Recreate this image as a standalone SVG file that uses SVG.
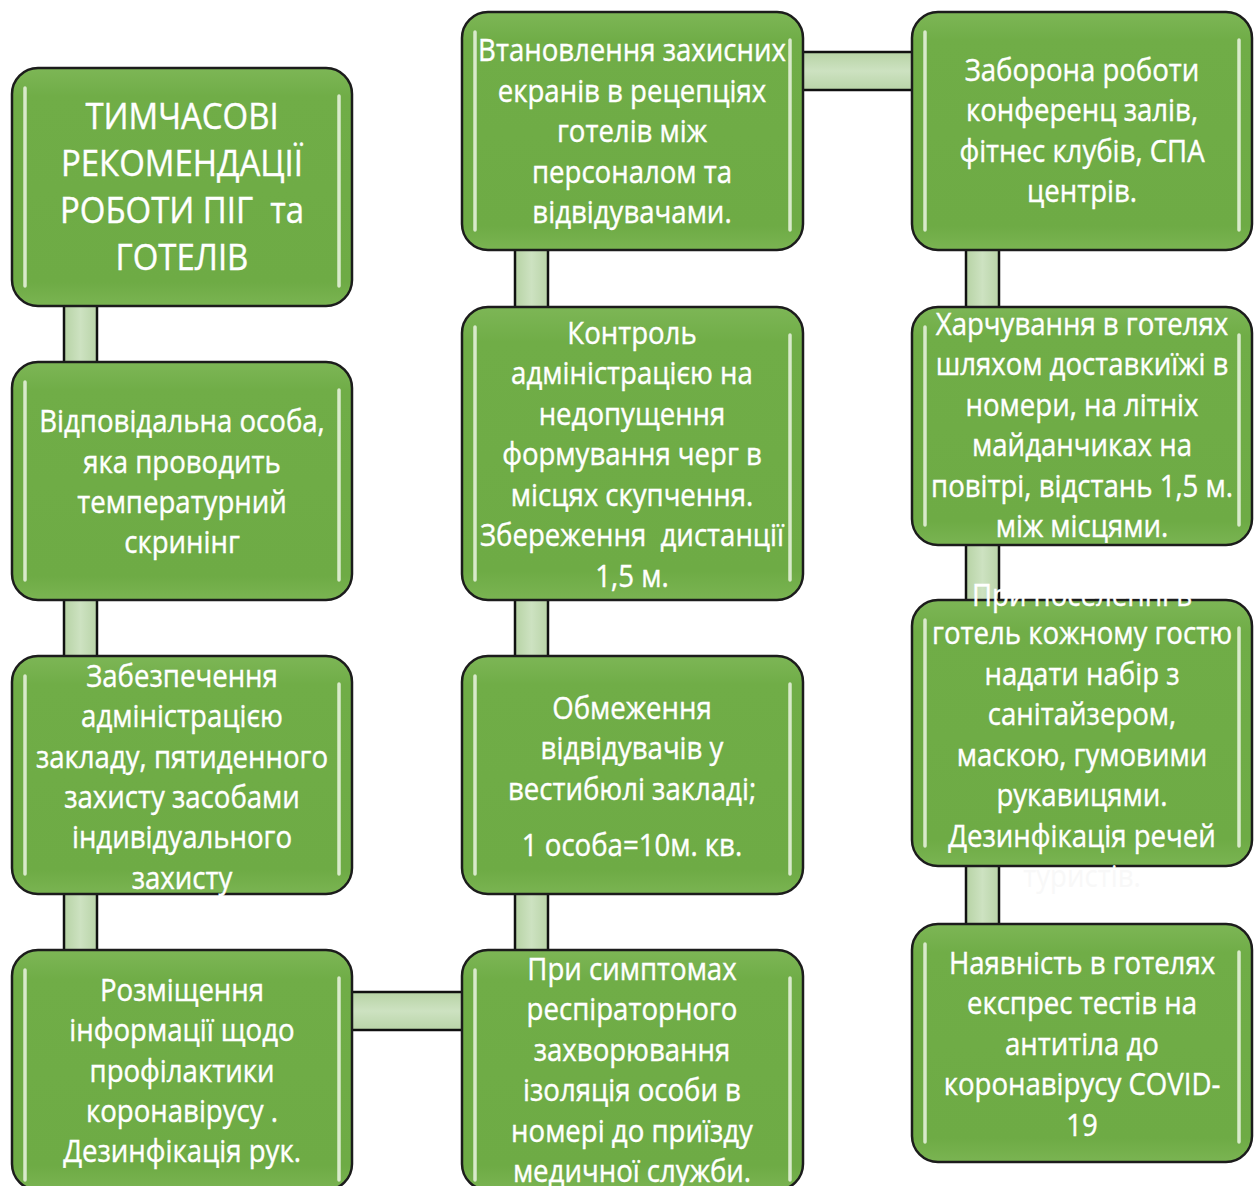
<svg xmlns="http://www.w3.org/2000/svg" width="1254" height="1186" viewBox="0 0 1254 1186">
<defs>
<style>
.box{fill:url(#gbox);stroke:#1c1c1c;stroke-width:2.5}
.hl{fill:none;stroke:#e4f1d9;stroke-width:3.5;stroke-linecap:round;opacity:0.9}
.cv{fill:url(#gcv)}
.ch{fill:url(#gch)}
.edge{stroke:#111;stroke-width:2.5}
.t{font-family:"Open Sans","Noto Sans",sans-serif;font-size:31px;fill:#fff;stroke:#fff;stroke-width:0.4;text-anchor:middle}
.tt{font-family:"Open Sans","Noto Sans",sans-serif;font-size:37px;fill:#fff;stroke:#fff;stroke-width:0.4;text-anchor:middle}
</style>
<linearGradient id="gbox" x1="0" y1="0" x2="0" y2="1">
<stop offset="0" stop-color="#7db656"/>
<stop offset="0.12" stop-color="#70ad47"/>
<stop offset="0.9" stop-color="#6eab45"/>
<stop offset="1" stop-color="#7ab452"/>
</linearGradient>
<linearGradient id="gcv" x1="0" y1="0" x2="1" y2="0">
<stop offset="0" stop-color="#b7d3a5"/>
<stop offset="0.5" stop-color="#cde2c1"/>
<stop offset="1" stop-color="#b9d4a8"/>
</linearGradient>
<linearGradient id="gch" x1="0" y1="0" x2="0" y2="1">
<stop offset="0" stop-color="#b7d3a5"/>
<stop offset="0.5" stop-color="#cde2c1"/>
<stop offset="1" stop-color="#b9d4a8"/>
</linearGradient>
</defs>
<rect width="1254" height="1186" fill="#fff"/>
<g id="connectors">
<rect class="cv" x="64" y="300" width="33" height="70"/><line class="edge" x1="64" y1="300" x2="64" y2="370"/><line class="edge" x1="97" y1="300" x2="97" y2="370"/>
<rect class="cv" x="64" y="595" width="33" height="70"/><line class="edge" x1="64" y1="595" x2="64" y2="665"/><line class="edge" x1="97" y1="595" x2="97" y2="665"/>
<rect class="cv" x="64" y="889" width="33" height="70"/><line class="edge" x1="64" y1="889" x2="64" y2="959"/><line class="edge" x1="97" y1="889" x2="97" y2="959"/>
<rect class="cv" x="515" y="245" width="33" height="70"/><line class="edge" x1="515" y1="245" x2="515" y2="315"/><line class="edge" x1="548" y1="245" x2="548" y2="315"/>
<rect class="cv" x="515" y="595" width="33" height="70"/><line class="edge" x1="515" y1="595" x2="515" y2="665"/><line class="edge" x1="548" y1="595" x2="548" y2="665"/>
<rect class="cv" x="515" y="889" width="33" height="70"/><line class="edge" x1="515" y1="889" x2="515" y2="959"/><line class="edge" x1="548" y1="889" x2="548" y2="959"/>
<rect class="cv" x="966" y="245" width="33" height="70"/><line class="edge" x1="966" y1="245" x2="966" y2="315"/><line class="edge" x1="999" y1="245" x2="999" y2="315"/>
<rect class="cv" x="966" y="540" width="33" height="68"/><line class="edge" x1="966" y1="540" x2="966" y2="608"/><line class="edge" x1="999" y1="540" x2="999" y2="608"/>
<rect class="cv" x="966" y="861" width="33" height="71"/><line class="edge" x1="966" y1="861" x2="966" y2="932"/><line class="edge" x1="999" y1="861" x2="999" y2="932"/>
<rect class="ch" x="798" y="52" width="120" height="38"/><line class="edge" x1="798" y1="52" x2="918" y2="52"/><line class="edge" x1="798" y1="90" x2="918" y2="90"/>
<rect class="ch" x="347" y="992" width="120" height="38"/><line class="edge" x1="347" y1="992" x2="467" y2="992"/><line class="edge" x1="347" y1="1030" x2="467" y2="1030"/>
</g>
<g id="n1">
<rect class="box" x="12" y="68" width="340" height="238" rx="26"/>
<line class="hl" x1="25" y1="88" x2="25" y2="286"/><line class="hl" x1="339" y1="96" x2="339" y2="286"/>
<text class="tt" transform="translate(182 0) scale(0.89 1)"><tspan x="0" y="129">ТИМЧАСОВІ</tspan><tspan x="0" y="176">РЕКОМЕНДАЦІЇ</tspan><tspan x="0" y="223">РОБОТИ ПІГ&#160; та</tspan><tspan x="0" y="270">ГОТЕЛІВ</tspan></text>
</g>
<g id="n2">
<rect class="box" x="12" y="362" width="340" height="238" rx="26"/>
<line class="hl" x1="25" y1="382" x2="25" y2="580"/><line class="hl" x1="339" y1="390" x2="339" y2="580"/>
<text class="t" transform="translate(182 0) scale(0.89 1)"><tspan x="0" y="432">Відповідальна особа,</tspan><tspan x="0" y="473">яка проводить</tspan><tspan x="0" y="513">температурний</tspan><tspan x="0" y="553">скринінг</tspan></text>
</g>
<g id="n3">
<rect class="box" x="12" y="656" width="340" height="238" rx="26"/>
<line class="hl" x1="25" y1="676" x2="25" y2="874"/><line class="hl" x1="339" y1="684" x2="339" y2="874"/>
<text class="t" transform="translate(182 0) scale(0.89 1)"><tspan x="0" y="687">Забезпечення</tspan><tspan x="0" y="727">адміністрацією</tspan><tspan x="0" y="768">закладу, пятиденного</tspan><tspan x="0" y="808">захисту засобами</tspan><tspan x="0" y="848">індивідуального</tspan><tspan x="0" y="889">захисту</tspan></text>
</g>
<g id="n4">
<rect class="box" x="12" y="950" width="340" height="240" rx="26"/>
<line class="hl" x1="25" y1="970" x2="25" y2="1180"/><line class="hl" x1="339" y1="978" x2="339" y2="1180"/>
<text class="t" transform="translate(182 0) scale(0.89 1)"><tspan x="0" y="1001">Розміщення</tspan><tspan x="0" y="1041">інформації щодо</tspan><tspan x="0" y="1082">профілактики</tspan><tspan x="0" y="1122">коронавірусу .</tspan><tspan x="0" y="1162">Дезинфікація рук.</tspan></text>
</g>
<g id="n5">
<rect class="box" x="462" y="12" width="341" height="238" rx="26"/>
<line class="hl" x1="475" y1="32" x2="475" y2="230"/><line class="hl" x1="790" y1="40" x2="790" y2="230"/>
<text class="t" transform="translate(632 0) scale(0.89 1)"><tspan x="0" y="61">Втановлення захисних</tspan><tspan x="0" y="102">екранів в рецепціях</tspan><tspan x="0" y="142">готелів між</tspan><tspan x="0" y="183">персоналом та</tspan><tspan x="0" y="223">відвідувачами.</tspan></text>
</g>
<g id="n6">
<rect class="box" x="462" y="307" width="341" height="293" rx="26"/>
<line class="hl" x1="475" y1="327" x2="475" y2="580"/><line class="hl" x1="790" y1="335" x2="790" y2="580"/>
<text class="t" transform="translate(632 0) scale(0.89 1)"><tspan x="0" y="344">Контроль</tspan><tspan x="0" y="384">адміністрацією на</tspan><tspan x="0" y="425">недопущення</tspan><tspan x="0" y="465">формування черг в</tspan><tspan x="0" y="506">місцях скупчення.</tspan><tspan x="0" y="546">Збереження&#160; дистанції</tspan><tspan x="0" y="587">1,5 м.</tspan></text>
</g>
<g id="n7">
<rect class="box" x="462" y="656" width="341" height="238" rx="26"/>
<line class="hl" x1="475" y1="676" x2="475" y2="874"/><line class="hl" x1="790" y1="684" x2="790" y2="874"/>
<text class="t" transform="translate(632 0) scale(0.89 1)"><tspan x="0" y="719">Обмеження</tspan><tspan x="0" y="759">відвідувачів у</tspan><tspan x="0" y="800">вестибюлі закладі;</tspan><tspan x="0" y="856">1 особа=10м. кв.</tspan></text>
</g>
<g id="n8">
<rect class="box" x="462" y="950" width="341" height="240" rx="26"/>
<line class="hl" x1="475" y1="970" x2="475" y2="1180"/><line class="hl" x1="790" y1="978" x2="790" y2="1180"/>
<text class="t" transform="translate(632 0) scale(0.89 1)"><tspan x="0" y="980">При симптомах</tspan><tspan x="0" y="1020">респіраторного</tspan><tspan x="0" y="1061">захворювання</tspan><tspan x="0" y="1101">ізоляція особи в</tspan><tspan x="0" y="1142">номері до приїзду</tspan><tspan x="0" y="1182">медичної служби.</tspan></text>
</g>
<g id="n9">
<rect class="box" x="912" y="12" width="340" height="238" rx="26"/>
<line class="hl" x1="925" y1="32" x2="925" y2="230"/><line class="hl" x1="1239" y1="40" x2="1239" y2="230"/>
<text class="t" transform="translate(1082 0) scale(0.89 1)"><tspan x="0" y="81">Заборона роботи</tspan><tspan x="0" y="121">конференц залів,</tspan><tspan x="0" y="162">фітнес клубів, СПА</tspan><tspan x="0" y="202">центрів.</tspan></text>
</g>
<g id="n10">
<rect class="box" x="912" y="307" width="340" height="238" rx="26"/>
<line class="hl" x1="925" y1="327" x2="925" y2="525"/><line class="hl" x1="1239" y1="335" x2="1239" y2="525"/>
<text class="t" transform="translate(1082 0) scale(0.89 1)"><tspan x="0" y="335">Харчування в готелях</tspan><tspan x="0" y="375">шляхом доставкиїжі в</tspan><tspan x="0" y="416">номери, на літніх</tspan><tspan x="0" y="456">майданчиках на</tspan><tspan x="0" y="497">повітрі, відстань 1,5 м.</tspan><tspan x="0" y="537">між місцями.</tspan></text>
</g>
<g id="n11">
<rect class="box" x="912" y="600" width="340" height="266" rx="26"/>
<line class="hl" x1="925" y1="620" x2="925" y2="846"/><line class="hl" x1="1239" y1="628" x2="1239" y2="846"/>
<text class="t" transform="translate(1082 0) scale(0.89 1)"><tspan x="0" y="606">При поселенні в</tspan><tspan x="0" y="644">готель кожному гостю</tspan><tspan x="0" y="685">надати набір з</tspan><tspan x="0" y="725">санітайзером,</tspan><tspan x="0" y="766">маскою, гумовими</tspan><tspan x="0" y="806">рукавицями.</tspan><tspan x="0" y="847">Дезинфікація речей</tspan><tspan x="0" y="887" style="fill:#f8f8f8;stroke:none">туристів.</tspan></text>
</g>
<g id="n12">
<rect class="box" x="912" y="924" width="340" height="238" rx="26"/>
<line class="hl" x1="925" y1="944" x2="925" y2="1142"/><line class="hl" x1="1239" y1="952" x2="1239" y2="1142"/>
<text class="t" transform="translate(1082 0) scale(0.89 1)"><tspan x="0" y="974">Наявність в готелях</tspan><tspan x="0" y="1014">експрес тестів на</tspan><tspan x="0" y="1055">антитіла до</tspan><tspan x="0" y="1095">коронавірусу COVID-</tspan><tspan x="0" y="1136">19</tspan></text>
</g>
</svg>
